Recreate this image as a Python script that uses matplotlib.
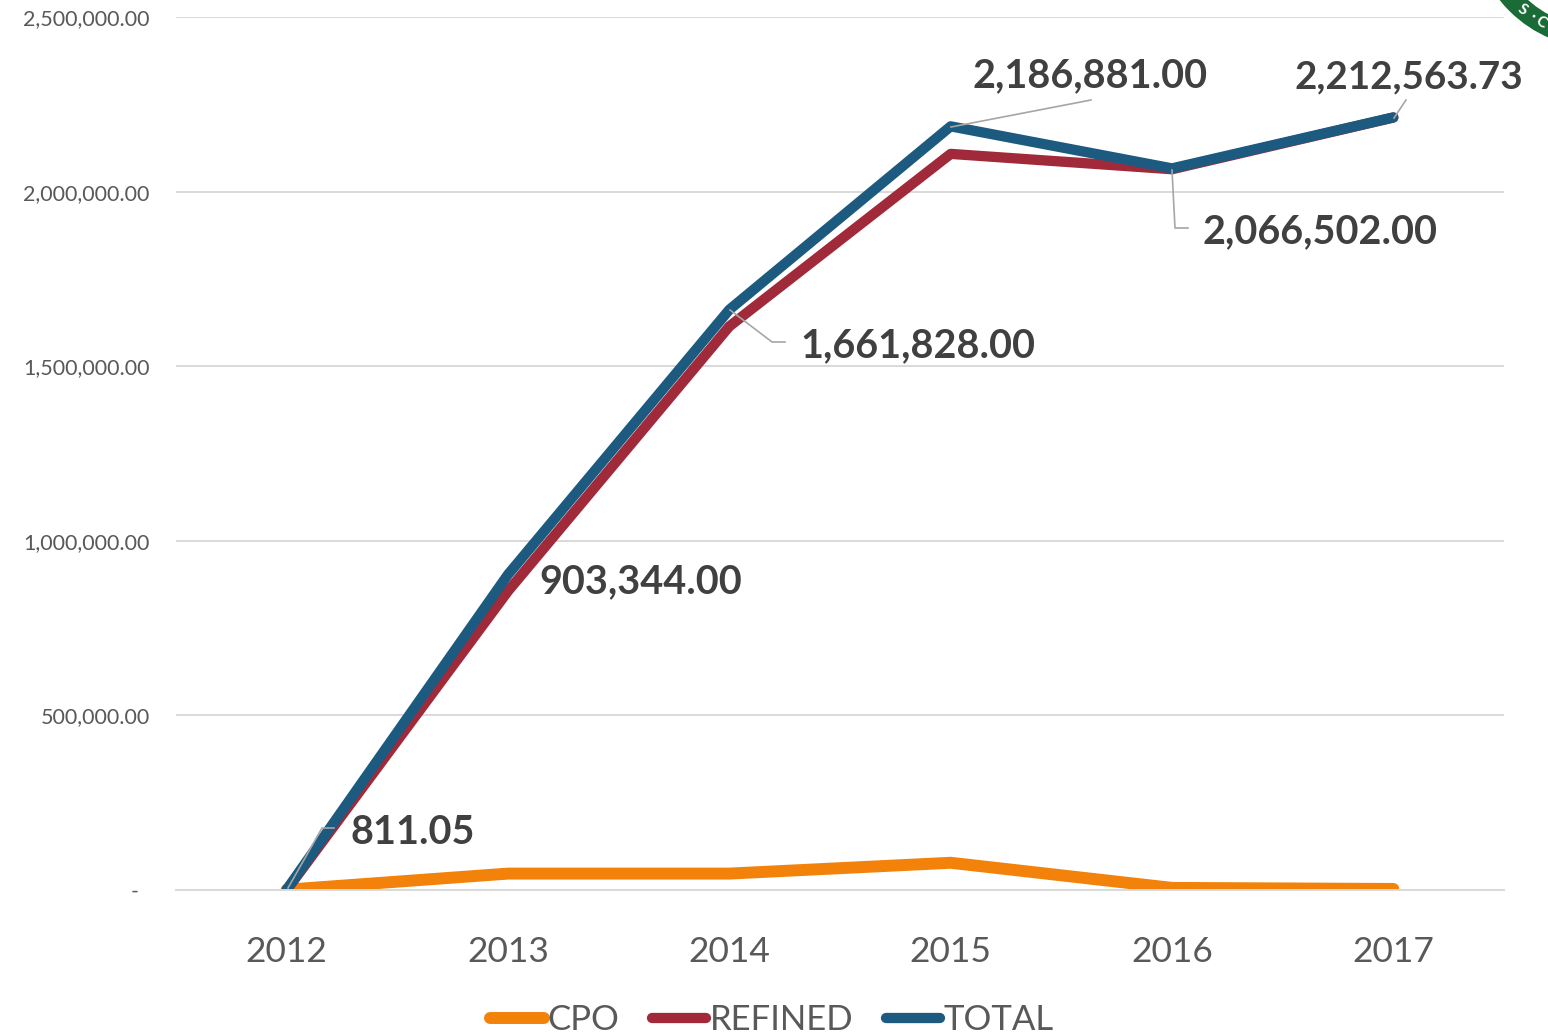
import matplotlib
matplotlib.use("Agg")
import matplotlib.pyplot as plt
from matplotlib.patches import Circle
from matplotlib.ticker import FuncFormatter

plt.rcParams["font.family"] = ["Lato", "DejaVu Sans"]

years = ["2012", "2013", "2014", "2015", "2016", "2017"]
cpo = [811.05, 47000, 47000, 78000, 6000, 3000]
refined = [0, 856000, 1614000, 2108000, 2064000, 2212000]
total = [811.05, 903344, 1661828, 2186881, 2066502, 2212563.73]
total_labels = ["811.05", "903,344.00", "1,661,828.00", "2,186,881.00", "2,066,502.00", "2,212,563.73"]
yticks = [0, 500000, 1000000, 1500000, 2000000, 2500000]

W, H = 1548, 1034
GREY = "#595959"
LEADER = "#a6a6a6"


def money(v, pos):
    if v == 0:
        return "-  "
    return f"{v:,.2f}"


fig = plt.figure(figsize=(W / 100, H / 100), dpi=100)
ax = fig.add_axes([176 / W, 1 - 890 / H, (1504 - 176) / W, (890 - 17) / H])

x = range(len(years))
ax.plot(x, cpo, color="#f28209", lw=8.6, solid_capstyle="round", solid_joinstyle="round", label="CPO")
ax.plot(x, refined, color="#a02a3a", lw=7.4, solid_capstyle="round", solid_joinstyle="round", label="REFINED")
ax.plot(x, total, color="#1c5a80", lw=7.4, solid_capstyle="round", solid_joinstyle="round", label="TOTAL")

ax.set_xlim(-0.5, 5.5)
ax.set_ylim(0, 2500000)
ax.set_xticks(list(x), years)
ax.set_yticks(yticks)
ax.yaxis.set_major_formatter(FuncFormatter(money))
ax.grid(axis="y", color="#d9d9d9", lw=1.4)
ax.set_axisbelow(True)
for s in ["top", "right", "left"]:
    ax.spines[s].set_visible(False)
ax.spines["bottom"].set_color("#d9d9d9")
ax.spines["bottom"].set_linewidth(1.4)
ax.tick_params(axis="both", length=0, colors=GREY)
ax.tick_params(axis="x", labelsize=25.5, pad=33)
ax.tick_params(axis="y", labelsize=15.5, pad=19)

leg = ax.legend(loc="lower center", bbox_to_anchor=(596 / 1328, -146 / 873), ncol=3, frameon=False,
                fontsize=25, handlelength=1.55, handletextpad=0.1, columnspacing=0.95,
                borderpad=0, borderaxespad=0, labelcolor=GREY)

# overlay in picture pixels for leader lines, labels and the cut-off badge
ov = fig.add_axes([0, 0, 1, 1], facecolor="none")
ov.set_xlim(0, W)
ov.set_ylim(H, 0)
ov.axis("off")

leaders = [
    ([288, 322, 334], [888, 828, 828]),
    ([730, 772, 785], [310, 342, 342]),
    ([951, 1091], [127, 100]),
    ([1172, 1175, 1188], [170, 228, 228]),
    ([1394, 1406], [118, 100]),
]
for lx, ly in leaders:
    ov.plot(lx, ly, color=LEADER, lw=1.2)

label_pos = [(350, 833), (539, 582), (800, 346), (973, 76), (1203, 232), (1294, 77)]
label_size = [28.5, 28.5, 28.5, 28.5, 28.5, 27.8]
for (px, py), txt, fs in zip(label_pos, total_labels, label_size):
    ov.text(px, py, txt, color="#404040", fontsize=fs, fontweight="bold", ha="left", va="center")

ov.add_patch(Circle((1600, -80), 118, fc="none", ec="#1a6b35", lw=15))
for (px, py), ch in zip([(1522, 10), (1533, 16), (1541, 22)], "S·C"):
    ov.text(px, py, ch, color="white", fontsize=11, fontweight="bold", rotation=-33, ha="center", va="center")

fig.savefig("out.png", dpi=100)
